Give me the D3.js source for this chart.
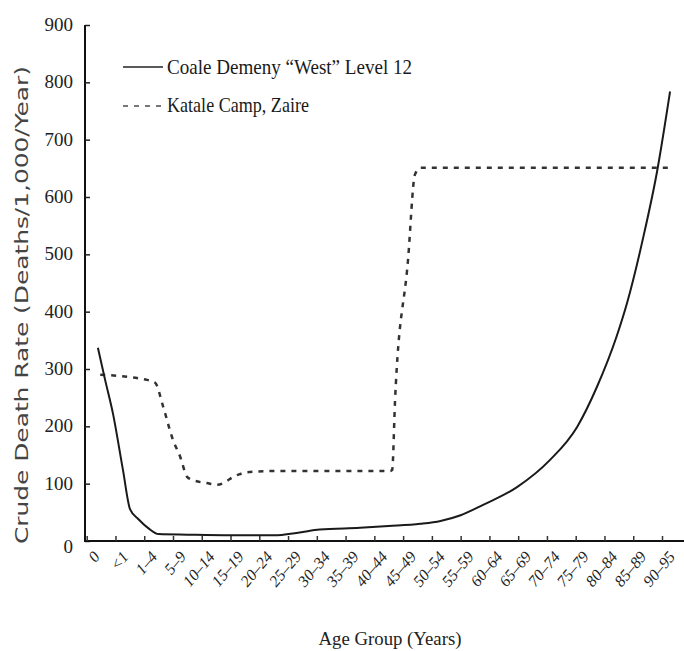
<!DOCTYPE html>
<html><head><meta charset="utf-8">
<script src="https://cdn.jsdelivr.net/npm/d3@7/dist/d3.min.js"></script>
<style>body{margin:0;background:#fff}</style>
</head><body>
<svg id="c" width="684" height="651"></svg>
<script>
// Age group categories (tick labels)
const categories = ["0","<1","1–4","5–9","10–14","15–19","20–24","25–29","30–34","35–39","40–44","45–49","50–54","55–59","60–64","65–69","70–74","75–79","80–84","85–89","90–95"];
const yTicks = [0,100,200,300,400,500,600,700,800,900];

// Coale Demeny "West" Level 12 (position along category axis, rate)
const coalePos  = [0.39,0.64,0.91,1.26,1.51,1.8,2.15,2.5,3.5,5,6.5,7.4,8.1,9.5,10.5,11.6,12.3,13.0,13.78,14.96,16.1,17.05,17.74,18.43,18.79,19.35,19.83,20.28];
const coaleVals = [337,281,223,124,55,38,22,12,11,10,10,15,20,23,26,30,35,45,63,94,141,199,269,358,416,530,645,784];

// Katale Camp, Zaire
const katalePos  = [0.47,2.10,2.38,2.66,3.0,3.25,3.49,3.71,4.18,4.53,5.23,5.57,6.48,10.55,10.62,10.72,11.17,11.41,11.6,20.28];
const kataleVals = [290,281,276,234,176,147,112,106,101,98,115,120,122,122,124,246,490,639,651,651];

const legendLabels = ['Coale Demeny “West” Level 12', 'Katale Camp, Zaire'];

const svg = d3.select("#c");
const x = d3.scaleLinear().domain([0, categories.length - 1]).range([86.7, 662]);
const y = d3.scaleLinear().domain([0, 900]).range([541, 25]);

const serif = "'Liberation Serif','Times New Roman',serif";

// Y axis
const yAxis = svg.append("g").attr("transform", "translate(85,0)")
  .call(d3.axisRight(y).tickValues(yTicks).tickSize(5).tickFormat(""));
yAxis.select(".domain").attr("stroke", "#111").attr("stroke-width", 2).attr("d", "M0,25V541");
yAxis.selectAll(".tick line").attr("stroke", "#222").attr("stroke-width", 1.5);
svg.append("g").selectAll("text").data(yTicks).join("text")
  .attr("x", 73).attr("y", d => y(d) + (d === 0 ? 12 : 6))
  .attr("text-anchor", "end")
  .attr("font-family", serif).attr("font-size", 19)
  .attr("fill", "#222")
  .text(d => d);

// X axis
const xAxis = svg.append("g").attr("transform", "translate(0,541)")
  .call(d3.axisTop(x).tickValues(d3.range(categories.length)).tickSize(5).tickFormat(""));
xAxis.select(".domain").attr("stroke", "#111").attr("stroke-width", 2).attr("d", "M84,0H684");
xAxis.selectAll(".tick line").attr("stroke", "#333").attr("stroke-width", 1.5);
svg.append("g").selectAll("text").data(categories).join("text")
  .attr("transform", (d, i) => `translate(${x(i) + 14},557) rotate(-50)`)
  .attr("text-anchor", "end")
  .attr("font-family", serif).attr("font-size", 16)
  .attr("font-style", "italic")
  .attr("fill", "#222")
  .text(d => d);

// Axis titles
svg.append("text")
  .attr("x", 390).attr("y", 645).attr("text-anchor", "middle")
  .attr("font-family", serif).attr("font-size", 19)
  .attr("textLength", 143).attr("lengthAdjust", "spacingAndGlyphs")
  .attr("fill", "#222")
  .text("Age Group (Years)");
svg.append("text")
  .attr("transform", "translate(28,305) rotate(-90)")
  .attr("text-anchor", "middle")
  .attr("font-family", "'DejaVu Sans',sans-serif").attr("font-size", 18)
  .attr("textLength", 478).attr("lengthAdjust", "spacingAndGlyphs")
  .attr("fill", "#444")
  .text("Crude Death Rate (Deaths/1,000/Year)");

// Lines
const line = d3.line().x(d => x(d[0])).y(d => y(d[1])).curve(d3.curveMonotoneX);
svg.append("path")
  .datum(katalePos.map((p, i) => [p, kataleVals[i]]))
  .attr("d", line).attr("fill", "none")
  .attr("stroke", "#333").attr("stroke-width", 2.5)
  .attr("stroke-dasharray", "5,6");
svg.append("path")
  .datum(coalePos.map((p, i) => [p, coaleVals[i]]))
  .attr("d", line).attr("fill", "none")
  .attr("stroke", "#1a1a1a").attr("stroke-width", 2);

// Legend
const lg = svg.append("g");
lg.append("line").attr("x1", 123).attr("x2", 163).attr("y1", 67).attr("y2", 67)
  .attr("stroke", "#222").attr("stroke-width", 1.5);
lg.append("line").attr("x1", 123).attr("x2", 162).attr("y1", 106).attr("y2", 106)
  .attr("stroke", "#777").attr("stroke-width", 2).attr("stroke-dasharray", "5,6");
lg.selectAll("text").data(legendLabels).join("text")
  .attr("x", 167).attr("y", (d, i) => 74 + i * 38)
  .attr("font-family", serif).attr("font-size", 22)
  .attr("textLength", (d, i) => i === 0 ? 245 : 142)
  .attr("lengthAdjust", "spacingAndGlyphs")
  .attr("fill", "#1a1a1a")
  .text(d => d);
</script>
</body></html>
